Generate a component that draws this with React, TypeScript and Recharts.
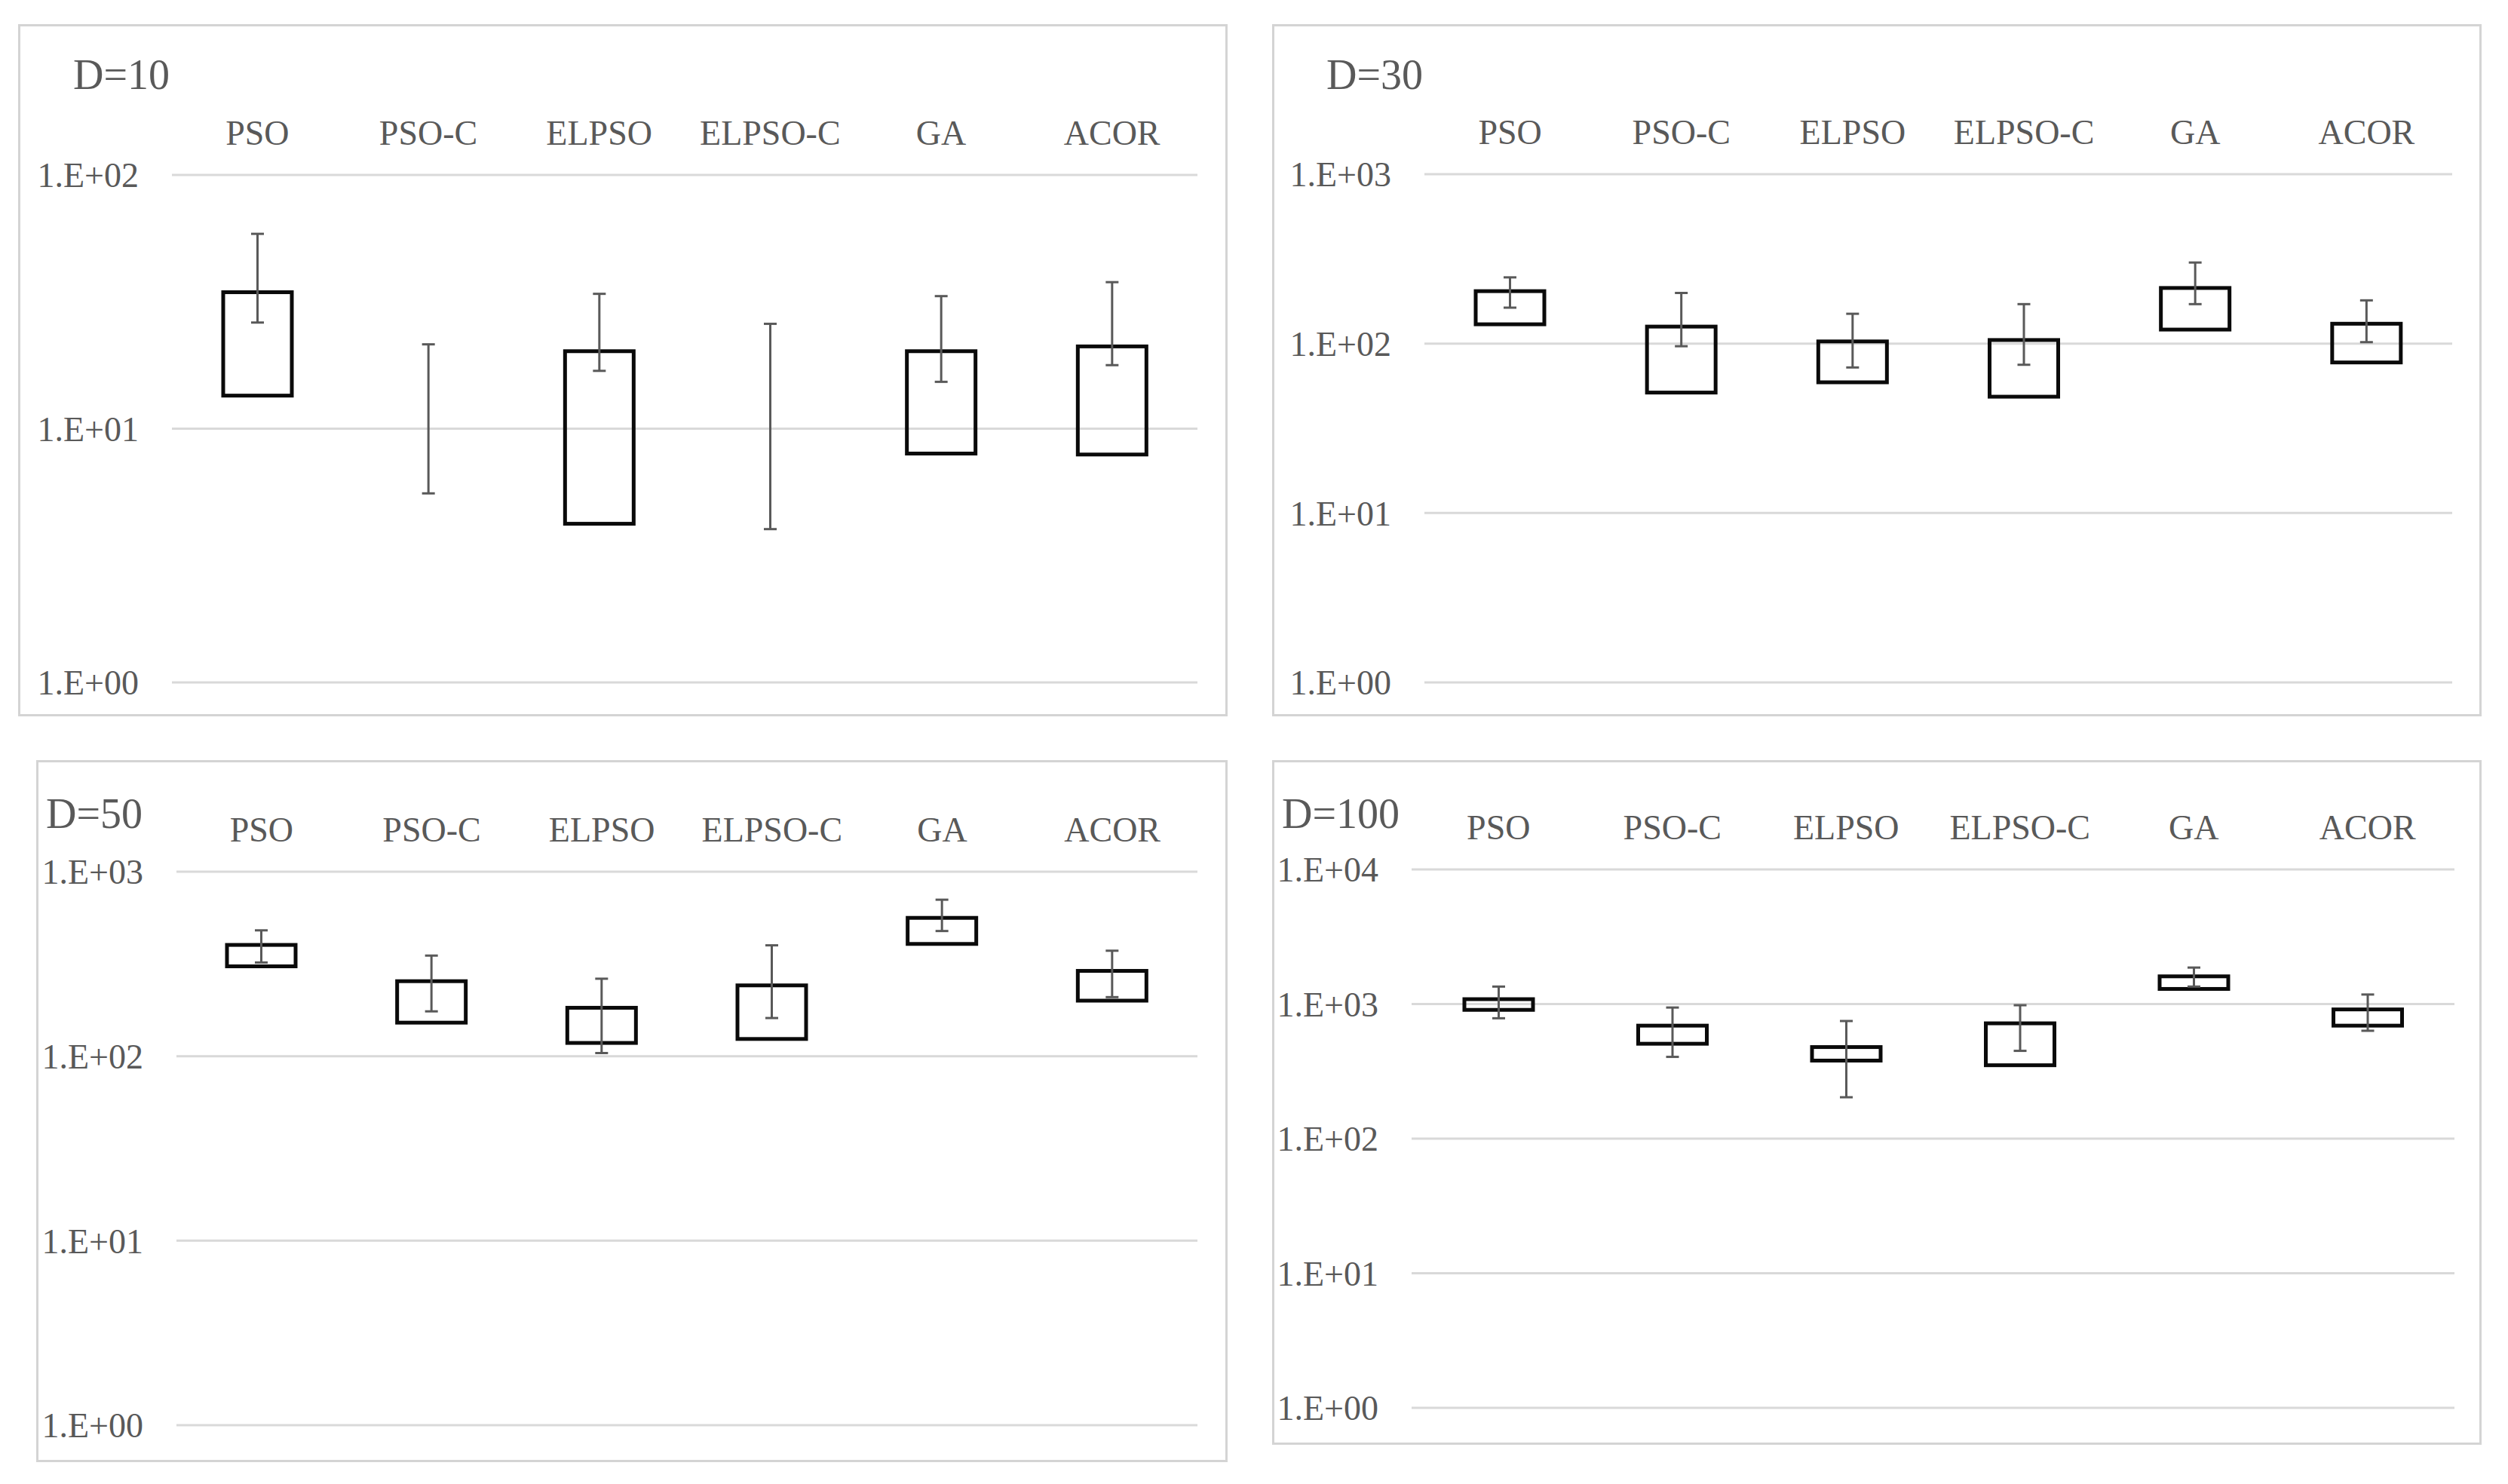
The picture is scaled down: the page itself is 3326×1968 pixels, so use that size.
import React from 'react';
import { ComposedChart, Bar, XAxis, YAxis, CartesianGrid } from 'recharts';

const categories = ['PSO', 'PSO-C', 'ELPSO', 'ELPSO-C', 'GA', 'ACOR'];

// D=10
const d10BoxLow = [13.5, null, 4.22, null, 7.98, 7.91];
const d10BoxHigh = [34.5, null, 20.2, null, 20.2, 21.1];
const d10WhiskerLow = [26.2, 5.56, 16.9, 4.02, 15.3, 17.8];
const d10WhiskerHigh = [58.6, 21.5, 34.0, 25.9, 33.3, 37.8];

// D=30
const d30BoxLow = [130, 51.4, 59.1, 48.6, 121, 77.4];
const d30BoxHigh = [204, 126, 103, 105, 213, 131];
const d30WhiskerLow = [163, 96.5, 72.3, 75, 171, 102];
const d30WhiskerHigh = [246, 199, 150, 171, 301, 180];

// D=50
const d50BoxLow = [307, 152, 118, 124, 406, 200];
const d50BoxHigh = [401, 255, 183, 242, 562, 290];
const d50WhiskerLow = [322, 175, 104, 161, 477, 209];
const d50WhiskerHigh = [481, 351, 263, 399, 705, 373];

// D=100
const d100BoxLow = [905, 507, 380, 351, 1295, 691];
const d100BoxHigh = [1087, 691, 479, 719, 1606, 912];
const d100WhiskerLow = [784, 405, 203, 449, 1348, 633];
const d100WhiskerHigh = [1348, 942, 748, 980, 1866, 1177];

const ticks2 = [1, 10, 100];
const ticks3 = [1, 10, 100, 1000];
const ticks4 = [1, 10, 100, 1000, 10000];

const FONT = '"Liberation Serif", "Times New Roman", serif';
const TEXT = '#595959';
const GRID = '#d9d9d9';

const buildRows = (bl: (number | null)[], bh: (number | null)[], wl: number[], wh: number[]) =>
  categories.map((name, i) => ({
    name,
    box: bl[i] == null ? null : [bl[i], bh[i]],
    whisker: [wl[i], wh[i]],
  }));

const fmt = (v: number) => {
  const e = Math.round(Math.log10(v));
  return `1.E+${String(e).padStart(2, '0')}`;
};

const BoxShape = (props: any) => {
  const { x, y, width, height, payload } = props;
  if (!payload || !payload.box || height == null) return <g />;
  const top = Math.min(y, y + height);
  const h = Math.abs(height);
  return <rect x={x} y={top} width={width} height={h} fill="none" stroke="#0a0a0a" strokeWidth={5} />;
};

const WhiskerShape = (props: any) => {
  const { x, y, width, height } = props;
  if (height == null) return <g />;
  const top = Math.min(y, y + height);
  const bot = Math.max(y, y + height);
  const cx = x + width / 2;
  return (
    <g stroke={TEXT} strokeWidth={3}>
      <line x1={cx} x2={cx} y1={top} y2={bot} />
      <line x1={x} x2={x + width} y1={top} y2={top} />
      <line x1={x} x2={x + width} y1={bot} y2={bot} />
    </g>
  );
};

interface PanelProps {
  title: string;
  left: number;
  top: number;
  width: number;
  height: number;
  plotLeft: number;
  plotRight: number;
  plotTop: number;
  plotBottom: number;
  titleX: number;
  titleBaseline: number;
  ticks: number[];
  rows: any[];
}

const Panel: React.FC<PanelProps> = (p) => {
  const yWidth = p.plotLeft - p.left;
  const xHeight = p.plotTop - p.top;
  return (
    <>
      <div
        style={{
          position: 'absolute',
          left: p.left,
          top: p.top,
          width: p.width,
          height: p.height,
          boxSizing: 'border-box',
          border: '3px solid #d4d4d4',
        }}
      />
      <div style={{ position: 'absolute', left: p.left, top: p.top }}>
        <ComposedChart
          width={p.width}
          height={p.height}
          data={p.rows}
          margin={{ top: 0, left: 0, right: p.left + p.width - p.plotRight, bottom: p.top + p.height - p.plotBottom }}
        >
          <CartesianGrid vertical={false} stroke={GRID} strokeWidth={3} />
          <XAxis
            xAxisId="box"
            dataKey="name"
            orientation="top"
            height={xHeight}
            axisLine={false}
            tickLine={false}
            tickSize={0}
            tickMargin={40}
            interval={0}
            tick={{ fill: TEXT, fontSize: 46, fontFamily: FONT }}
          />
          <XAxis xAxisId="wh" dataKey="name" orientation="top" hide />
          <YAxis
            type="number"
            scale="log"
            domain={[p.ticks[0], p.ticks[p.ticks.length - 1]]}
            ticks={p.ticks}
            allowDataOverflow
            width={yWidth}
            axisLine={false}
            tickLine={false}
            tickSize={0}
            tickMargin={44}
            tickFormatter={fmt}
            tick={{ fill: TEXT, fontSize: 46, fontFamily: FONT }}
          />
          <Bar xAxisId="box" dataKey="box" barSize={91} shape={BoxShape} isAnimationActive={false} />
          <Bar xAxisId="wh" dataKey="whisker" barSize={17} shape={WhiskerShape} isAnimationActive={false} />
        </ComposedChart>
      </div>
      <div
        style={{
          position: 'absolute',
          left: p.titleX,
          top: p.titleBaseline - 50,
          fontFamily: FONT,
          fontSize: 56,
          lineHeight: '64px',
          color: TEXT,
          whiteSpace: 'nowrap',
        }}
      >
        {p.title}
      </div>
    </>
  );
};

export default function App() {
  return (
    <div style={{ position: 'absolute', left: 0, top: 0, width: 3326, height: 1968, background: '#fff' }}>
      <Panel
        title="D=10"
        left={24} top={32} width={1604} height={918}
        plotLeft={228} plotRight={1588} plotTop={232} plotBottom={905}
        titleX={97} titleBaseline={117}
        ticks={ticks2}
        rows={buildRows(d10BoxLow, d10BoxHigh, d10WhiskerLow, d10WhiskerHigh)}
      />
      <Panel
        title="D=30"
        left={1687} top={32} width={1604} height={918}
        plotLeft={1889} plotRight={3252} plotTop={231} plotBottom={905}
        titleX={1759} titleBaseline={117}
        ticks={ticks3}
        rows={buildRows(d30BoxLow, d30BoxHigh, d30WhiskerLow, d30WhiskerHigh)}
      />
      <Panel
        title="D=50"
        left={48} top={1008} width={1580} height={931}
        plotLeft={234} plotRight={1588} plotTop={1156} plotBottom={1890}
        titleX={61} titleBaseline={1097}
        ticks={ticks3}
        rows={buildRows(d50BoxLow, d50BoxHigh, d50WhiskerLow, d50WhiskerHigh)}
      />
      <Panel
        title="D=100"
        left={1687} top={1008} width={1604} height={908}
        plotLeft={1872} plotRight={3255} plotTop={1153} plotBottom={1867}
        titleX={1700} titleBaseline={1097}
        ticks={ticks4}
        rows={buildRows(d100BoxLow, d100BoxHigh, d100WhiskerLow, d100WhiskerHigh)}
      />
    </div>
  );
}
